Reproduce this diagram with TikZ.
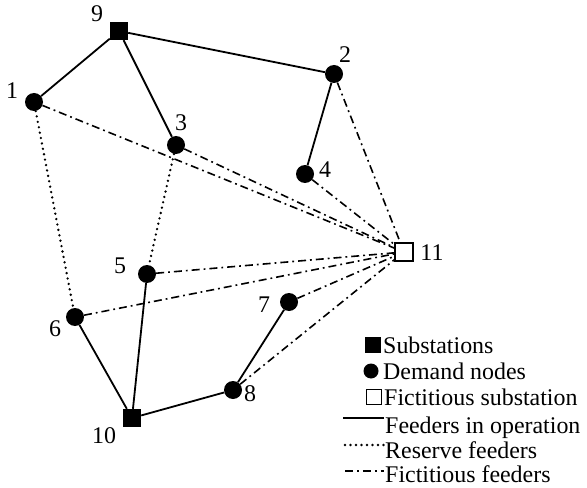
\documentclass[tikz,border=0pt]{standalone}
\usepackage{fontspec}
\setmainfont{Liberation Serif}
\begin{document}
\begin{tikzpicture}[x=1bp,y=-1bp,
 dem/.style={circle,fill=black,inner sep=0,minimum size=18bp},
 sub/.style={rectangle,fill=black,inner sep=0,minimum size=18bp},
 fsub/.style={rectangle,draw=black,fill=white,line width=1.3bp,inner sep=0,minimum size=18bp},
 lab/.style={inner sep=0,font=\fontsize{24}{27}\selectfont},
 legtext/.style={lab,anchor=base west},
 op/.style={line width=1.8bp},
 res/.style={line width=2.6bp,line cap=round,dash pattern=on 0bp off 5.5bp},
 fic/.style={line width=1.6bp,dash pattern=on 8bp off 4bp on 1.8bp off 4bp}]
\useasboundingbox (0,0) rectangle (587,488);
% nodes
\node[sub] (n9) at (119,31) {};
\node[dem] (n1) at (34,102) {};
\node[dem] (n3) at (176,145) {};
\node[dem] (n2) at (334,74) {};
\node[dem] (n4) at (305,174) {};
\node[fsub] (n11) at (404,252) {};
\node[dem] (n5) at (147,274) {};
\node[dem] (n6) at (75,317) {};
\node[dem] (n7) at (289,302) {};
\node[dem] (n8) at (233,390) {};
\node[sub] (n10) at (132,418) {};
% labels
\node[lab] (l9) at (97,14) {9};
\node[lab] (l1) at (12,91) {1};
\node[lab] (l3) at (181,123) {3};
\node[lab] (l2) at (345,55) {2};
\node[lab] (l4) at (325,170) {4};
\node[lab] (l11) at (432,253) {11};
\node[lab] (l5) at (120,266) {5};
\node[lab] (l6) at (55,329) {6};
\node[lab] (l7) at (264,305) {7};
\node[lab] (l8) at (250,394) {8};
\node[lab] (l10) at (104,436) {10};
% operating feeders
\draw[op] (n9) -- (n1);
\draw[op] (n9) -- (n3);
\draw[op] (n9) -- (n2);
\draw[op] (n2) -- (n4);
\draw[op] (n6) -- (n10);
\draw[op] (n5) -- (n10);
\draw[op] (n10) -- (n8);
\draw[op] (n8) -- (n7);
% reserve feeders
\draw[res] (n1) -- (n6);
\draw[res] (n3) -- (n5);
% fictitious feeders
\foreach \n in {n1,n3,n4,n2,n5,n6,n7,n8} \draw[fic] (\n) -- (n11);
% legend
\node[sub,minimum size=16bp] (ls) at (373,345) {};
\node[dem,minimum size=15bp] (ld) at (371,371) {};
\node[fsub,minimum size=15bp] (lf) at (374,397) {};
\node[legtext] (t1) at (383,353) {Substations};
\node[legtext] (t2) at (383,379) {Demand nodes};
\node[legtext] (t3) at (384,405) {Fictitious substation};
\node[legtext] (t4) at (385,433) {Feeders in operation};
\node[legtext] (t5) at (385,458) {Reserve feeders};
\node[legtext] (t6) at (385,482) {Fictitious feeders};
\coordinate (a1) at (343,418); \coordinate (a2) at (384,418);
\coordinate (b1) at (345,445); \coordinate (b2) at (384,445);
\coordinate (c1) at (345,471); \coordinate (c2) at (384,471);
\draw[op] (a1) -- (a2);
\draw[res] (b1) -- (b2);
\draw[fic] (c1) -- (c2);
\end{tikzpicture}
\end{document}
